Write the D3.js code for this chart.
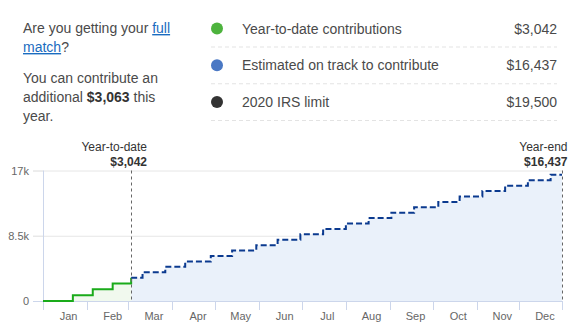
<!DOCTYPE html>
<html>
<head>
<meta charset="utf-8">
<script src="https://cdn.jsdelivr.net/npm/d3@7/dist/d3.min.js"></script>
<style>
  html, body { margin: 0; padding: 0; background: #fff; }
  svg { display: block; font-family: "Liberation Sans", Arial, sans-serif; }
</style>
</head>
<body>
<svg id="chart" width="582" height="333"></svg>
<script>
// ---- data ----
const legendLabels = ["Year-to-date contributions", "Estimated on track to contribute", "2020 IRS limit"];
const legendValues = [3042, 16437, 19500];
const legendColors = ["#4db33d", "#4a78c4", "#333333"];

const additionalAmount = 3063;
const todayDate = "2020-03-03";
const yearEndDate = "2020-12-31";

// contributions made so far (cumulative)
const ytdDates  = ["2020-01-01", "2020-01-22", "2020-02-05", "2020-02-19", "2020-03-03"];
const ytdValues = [0, 760, 1521, 2281, 3042];

// projected contributions through year end (cumulative)
const projDates = ["2020-03-03", "2020-03-11", "2020-03-27", "2020-04-10", "2020-04-28",
                   "2020-05-13", "2020-05-30", "2020-06-14", "2020-06-30", "2020-07-16",
                   "2020-08-01", "2020-08-17", "2020-09-02", "2020-09-18", "2020-10-05",
                   "2020-10-20", "2020-11-05", "2020-11-21", "2020-12-07", "2020-12-23",
                   "2020-12-31"];
const projValues = [3042, 3747, 4452, 5157, 5862, 6567, 7272, 7977, 8682, 9387,
                    10092, 10797, 11502, 12207, 12912, 13617, 14322, 15027, 15732, 16437,
                    16437];

const yTicks = [0, 8500, 17000];
const yTickLabels = ["0", "8.5k", "17k"];
const monthLabels = ["Jan", "Feb", "Mar", "Apr", "May", "Jun", "Jul", "Aug", "Sep", "Oct", "Nov", "Dec"];

// ---- setup ----
const parse = d3.utcParse("%Y-%m-%d");
const fmt = d3.format("$,");
const svg = d3.select("#chart");

// ---- summary text (top left) ----
const intro = svg.append("g").attr("font-size", 14).attr("fill", "#4a4a4a");
const l1 = intro.append("text").attr("x", 23).attr("y", 33);
l1.append("tspan").text("Are you getting your ");
l1.append("tspan").attr("fill", "#1a6cc0").attr("text-decoration", "underline").text("full");
const l2 = intro.append("text").attr("x", 23).attr("y", 52);
l2.append("tspan").attr("fill", "#1a6cc0").attr("text-decoration", "underline").text("match");
l2.append("tspan").text("?");
intro.append("text").attr("x", 23).attr("y", 83).text("You can contribute an");
const l4 = intro.append("text").attr("x", 23).attr("y", 102);
l4.append("tspan").text("additional ");
l4.append("tspan").attr("font-weight", "bold").attr("fill", "#333").text(fmt(additionalAmount));
l4.append("tspan").text(" this");
intro.append("text").attr("x", 23).attr("y", 120.5).text("year.");

// ---- legend (top right) ----
const legend = svg.append("g");
const rowY = d3.scalePoint().domain(d3.range(legendLabels.length)).range([28.5, 102]);
legendLabels.forEach((lab, i) => {
  const y = rowY(i);
  legend.append("circle").attr("cx", 217).attr("cy", y).attr("r", 6).attr("fill", legendColors[i]);
  legend.append("text").attr("x", 242).attr("y", y + 5).attr("font-size", 14)
    .attr("fill", "#4a4a4a").text(lab);
  legend.append("text").attr("x", 557).attr("y", y + 5).attr("font-size", 14)
    .attr("fill", "#4a4a4a").attr("text-anchor", "end").text(fmt(legendValues[i]));
  legend.append("line").attr("x1", 211).attr("x2", 557)
    .attr("y1", y + 18.5).attr("y2", y + 18.5)
    .attr("stroke", "#e3e3e3").attr("stroke-dasharray", "4,3");
});

// ---- chart ----
const x = d3.scaleUtc().domain([parse("2020-01-01"), parse(yearEndDate)]).range([43, 562]);
const y = d3.scaleLinear().domain([0, 17000]).range([301, 170.5]);

const ytd = ytdDates.map((d, i) => ({ date: parse(d), value: ytdValues[i] }));
const proj = projDates.map((d, i) => ({ date: parse(d), value: projValues[i] }));

// grid lines
svg.append("g").selectAll("line").data(yTicks.filter(v => v > 0)).join("line")
  .attr("x1", 33).attr("x2", 563)
  .attr("y1", d => y(d) + 0.5).attr("y2", d => y(d) + 0.5)
  .attr("stroke", "#e6e6e6");

// areas
const area = d3.area().curve(d3.curveStepAfter)
  .x(d => x(d.date)).y0(y(0)).y1(d => y(d.value));
svg.append("path").datum(proj).attr("d", area).attr("fill", "#eaf1fa");
svg.append("path").datum(ytd).attr("d", area).attr("fill", "#f1f9ee");

// y axis
svg.append("line").attr("x1", 43.5).attr("x2", 43.5).attr("y1", y(17000)).attr("y2", y(0))
  .attr("stroke", "#ccd6eb");
const yl = svg.append("g").attr("font-size", 11).attr("fill", "#666");
yTicks.forEach((v, i) => {
  svg.append("line").attr("x1", 33).attr("x2", 43).attr("y1", y(v) + 0.5).attr("y2", y(v) + 0.5)
    .attr("stroke", v === 0 ? "#ccd6eb" : "#e6e6e6");
  yl.append("text").attr("x", 29).attr("y", y(v) + 4).attr("text-anchor", "end").text(yTickLabels[i]);
});

// x axis
const monthStarts = d3.utcMonth.range(parse("2020-01-01"), parse("2021-01-01"));
svg.append("line").attr("x1", 43).attr("x2", 563).attr("y1", 301.5).attr("y2", 301.5)
  .attr("stroke", "#ccd6eb");
svg.append("g").selectAll("line").data(monthStarts.concat([parse(yearEndDate)])).join("line")
  .attr("x1", d => Math.round(x(d)) + 0.5).attr("x2", d => Math.round(x(d)) + 0.5)
  .attr("y1", 301).attr("y2", 310).attr("stroke", "#ccd6eb");
svg.append("g").attr("font-size", 11).attr("fill", "#666")
  .selectAll("text").data(monthStarts).join("text")
  .attr("x", d => x(d3.utcDay.offset(d, 18)))
  .attr("y", 319.5).attr("text-anchor", "middle")
  .text((d, i) => monthLabels[i]);

// lines
const line = d3.line().curve(d3.curveStepAfter).x(d => x(d.date)).y(d => y(d.value));
svg.append("path").datum(ytd).attr("d", line)
  .attr("fill", "none").attr("stroke", "#1aab1a").attr("stroke-width", 2);
svg.append("path").datum(proj).attr("d", line)
  .attr("fill", "none").attr("stroke", "#0b3a8f").attr("stroke-width", 2)
  .attr("stroke-dasharray", "6,3");

// markers for today and year end; labels kept inside the chart's right edge
const markers = [
  { date: parse(todayDate), title: "Year-to-date", value: ytdValues[ytdValues.length - 1] },
  { date: parse(yearEndDate), title: "Year-end", value: projValues[projValues.length - 1] }
];
markers.forEach(m => {
  const mx = Math.round(x(m.date)) + 0.5;
  const tx = Math.min(mx + 15.5, 567.5);
  svg.append("line").attr("x1", mx).attr("x2", mx).attr("y1", y(17000)).attr("y2", y(0))
    .attr("stroke", "#666").attr("stroke-dasharray", "3,3");
  svg.append("text").attr("x", tx).attr("y", 151).attr("font-size", 12)
    .attr("fill", "#333").attr("text-anchor", "end").text(m.title);
  svg.append("text").attr("x", tx).attr("y", 166).attr("font-size", 12)
    .attr("font-weight", "bold").attr("fill", "#333").attr("text-anchor", "end").text(fmt(m.value));
});
</script>
</body>
</html>
